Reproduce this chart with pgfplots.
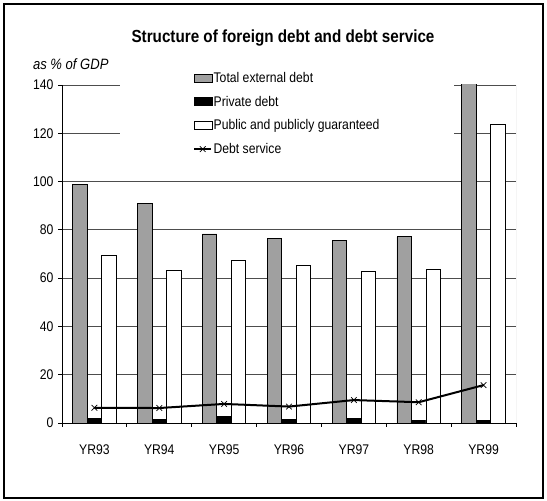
\documentclass[border=0pt]{standalone}
\usepackage{pgfplots}
\pgfplotsset{compat=1.18}
\usepackage{fontspec}
\setmainfont{Liberation Sans}[FakeStretch=0.87]
\definecolor{barGray}{HTML}{A0A0A0}
\definecolor{gridGray}{HTML}{4D4D4D}

\pgfplotsset{
  boxlegend/.style={legend image code/.code={\draw[##1,line width=0.8bp] (0bp,-4bp) rectangle (18bp,4bp);}},
}

\begin{document}
\begin{tikzpicture}[x=1bp,y=1bp]
  \useasboundingbox (0,0) rectangle (547,501);
  \draw[line width=1.2bp] (4,3) rectangle (543,497);

  \node[font=\fontsize{17.5bp}{20bp}\selectfont\bfseries] at (283,463) {Structure of foreign debt and debt service};
  \node[anchor=east,font=\fontsize{15bp}{17bp}\selectfont\itshape] at (112,437) {as \% of GDP};

  \begin{axis}[
      at={(62bp,78bp)}, anchor=south west,
      scale only axis,
      width=454bp, height=338bp,
      xmin=-0.5, xmax=6.5,
      ymin=0, ymax=140,
      axis lines*=left,
      axis line style={line width=0.8bp},
      xtick={0,...,6},
      xticklabels={YR93,YR94,YR95,YR96,YR97,YR98,YR99},
      minor xtick={-0.5,0.5,...,6.5},
      major x tick style={draw=none},
      ytick={0,20,...,140},
      tick align=outside,
      major tick length=4bp,
      minor tick length=4bp,
      tick style={black,line width=0.8bp},
      ymajorgrids,
      major grid style={gridGray,line width=0.8bp},
      xticklabel style={yshift=-14bp},
      yticklabel style={xshift=-1bp},
      ticklabel style={font=\fontsize{14bp}{16bp}\selectfont},
      /pgf/number format/assume math mode=true,
      legend style={
        at={(0.1278,1.080)}, anchor=north west,
        draw=none, fill=white,
        inner xsep=73bp, inner ysep=8bp,
        row sep=0pt,
        font=\fontsize{14bp}{16bp}\selectfont,
        nodes={inner xsep=1bp, inner ysep=0pt, minimum height=23.7bp},
      },
      legend cell align=left,
    ]
    \addplot[ybar, bar width=14.5bp, bar shift=-14.5bp, fill=barGray, draw=black, line width=0.8bp, boxlegend] coordinates {
      (0,98.9) (1,90.8) (2,78.3) (3,76.3) (4,75.6) (5,77.1) (6,150)
    };
    \addplot[ybar, bar width=14.5bp, bar shift=0bp, fill=black, draw=black, line width=0.8bp, boxlegend] coordinates {
      (0,1.8) (1,1.4) (2,2.6) (3,1.6) (4,2.0) (5,1.1) (6,1.1)
    };
    \addplot[ybar, bar width=14.5bp, bar shift=14.5bp, fill=white, draw=black, line width=0.8bp, boxlegend] coordinates {
      (0,69.6) (1,63.4) (2,67.4) (3,65.4) (4,62.8) (5,63.8) (6,123.8)
    };
    \addplot[sharp plot, black, line width=2bp, mark=x, mark size=4bp, mark options={line width=0.7bp}] coordinates {
      (0,6.3) (1,6.2) (2,7.9) (3,6.8) (4,9.5) (5,8.6) (6,15.7)
    };
    \legend{Total external debt, Private debt, Public and publicly guaranteed, Debt service}
    \draw[black!30, line width=0.8bp] (rel axis cs:1,0) -- (rel axis cs:1,1);
  \end{axis}
\end{tikzpicture}
\end{document}
